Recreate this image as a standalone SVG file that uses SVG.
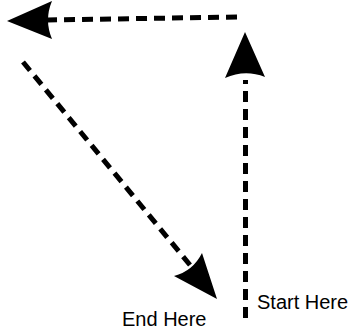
<svg xmlns="http://www.w3.org/2000/svg" width="351" height="332" viewBox="0 0 351 332">
<style>
.dash{fill:none;stroke:#000;stroke-width:5;stroke-dasharray:11 7}
.head{fill:#000;stroke:none}
.lbl{font-family:"Liberation Sans",Arial,sans-serif;font-size:20px;fill:#000}
</style>
<rect width="351" height="332" fill="#fff"/>
<g id="connectors">
<line class="dash" x1="237" y1="17" x2="48" y2="20"/>
<path class="head" d="M7,21 L52,1 Q44,20 52,39 Z"/>
<line class="dash" x1="245.5" y1="318" x2="245.5" y2="80"/>
<path class="head" d="M245,32 L265,77 Q245,69 225,78 Z"/>
<line class="dash" x1="23" y1="62" x2="190" y2="265"/>
<path class="head" d="M217,299 L202,253 Q193,271 174,276 Z"/>
</g>
<g id="start"><text class="lbl" x="257" y="309">Start Here</text></g>
<g id="end"><text class="lbl" x="122" y="326">End Here</text></g>
</svg>
